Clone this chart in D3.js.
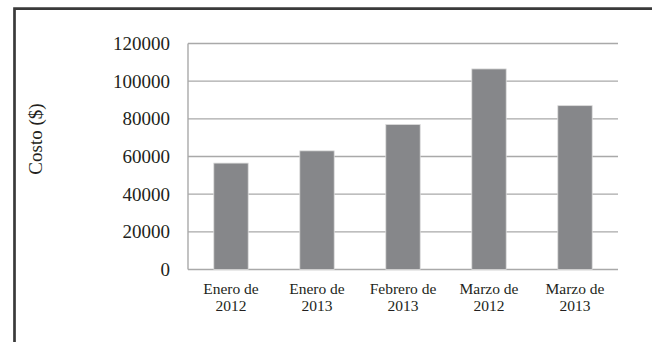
<!DOCTYPE html>
<html>
<head>
<meta charset="utf-8">
<script src="https://cdn.jsdelivr.net/npm/d3@7"></script>
<style>
  html, body { margin: 0; padding: 0; background: #fff; }
  svg { display: block; }
  text { font-family: "Liberation Serif", "Times New Roman", serif; fill: #231f20; }
</style>
</head>
<body>
<svg id="chart" width="652" height="342"></svg>
<script>
// Monthly cost per period
const categories = ["Enero de 2012", "Enero de 2013", "Febrero de 2013", "Marzo de 2012", "Marzo de 2013"];
const costs = [56500, 63000, 77000, 106500, 87000];
const yTicks = [0, 20000, 40000, 60000, 80000, 100000, 120000];
const yTitle = "Costo ($)";

const svg = d3.select("#chart");
const plot = { left: 188, right: 618, top: 43.5, bottom: 269.5 };

// frame around the chart area
svg.append("path")
  .attr("d", "M14.5,342 V8.7 H652")
  .attr("fill", "none")
  .attr("stroke", "#3a3a3a")
  .attr("stroke-width", 2.7);

const x = d3.scaleBand()
  .domain(categories)
  .range([plot.left, plot.right])
  .paddingInner(0.6)
  .paddingOuter(0.3);

const y = d3.scaleLinear()
  .domain([0, 120000])
  .range([plot.bottom, plot.top]);

// horizontal gridlines
svg.append("g")
  .selectAll("line")
  .data(yTicks)
  .join("line")
  .attr("x1", plot.left)
  .attr("x2", plot.right)
  .attr("y1", d => y(d))
  .attr("y2", d => y(d))
  .attr("stroke", "#a9a9a9")
  .attr("stroke-width", 1.4);

// vertical axis line
svg.append("line")
  .attr("x1", plot.left).attr("x2", plot.left)
  .attr("y1", y(120000)).attr("y2", y(0))
  .attr("stroke", "#a9a9a9")
  .attr("stroke-width", 1.4);

// bars
svg.append("g")
  .selectAll("rect")
  .data(costs)
  .join("rect")
  .attr("x", (d, i) => x(categories[i]))
  .attr("y", d => y(d))
  .attr("width", x.bandwidth())
  .attr("height", d => y(0) - y(d))
  .attr("fill", "#86878a")
  .attr("stroke", "#dcdcdc")
  .attr("stroke-width", 0.8);

// y axis labels
const yAxis = d3.axisLeft(y).tickValues(yTicks).tickSize(0).tickPadding(18).tickFormat(d3.format("d"));
const gy = svg.append("g")
  .attr("transform", `translate(${plot.left},0)`)
  .call(yAxis);
gy.select(".domain").remove();
gy.selectAll("text")
  .style("font-family", "'Liberation Serif', 'Times New Roman', serif")
  .style("font-size", "19px")
  .attr("fill", "#231f20");

// x axis labels, two lines each
const gx = svg.append("g");
categories.forEach(c => {
  const parts = c.match(/^(.*de) (\d{4})$/);
  const t = gx.append("text")
    .attr("text-anchor", "middle")
    .style("font-size", "15.5px")
    .attr("x", x(c) + x.bandwidth() / 2);
  t.append("tspan").attr("x", x(c) + x.bandwidth() / 2).attr("y", 293.5).text(parts[1]);
  t.append("tspan").attr("x", x(c) + x.bandwidth() / 2).attr("y", 310.5).text(parts[2]);
});

// y axis title
svg.append("text")
  .attr("transform", "translate(42,139) rotate(-90)")
  .attr("text-anchor", "middle")
  .style("font-size", "19px")
  .text(yTitle);
</script>
</body>
</html>
